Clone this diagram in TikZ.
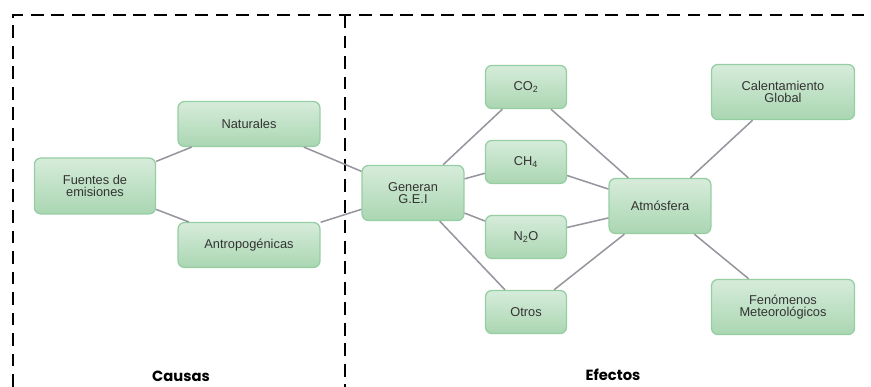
\documentclass[tikz,border=0pt]{standalone}
\usepackage{fontspec}
\setmainfont{Liberation Sans}
\newfontfamily\headfont{Poppins}
\usetikzlibrary{positioning}
\definecolor{boxtop}{RGB}{214,236,218}
\definecolor{boxbot}{RGB}{170,214,178}
\definecolor{boxline}{RGB}{150,206,163}
\definecolor{linkgray}{RGB}{150,150,158}
\begin{document}
\begin{tikzpicture}[x=0.0274cm,y=-0.0274cm,font=\fontsize{10}{9.5}\selectfont]
\tikzset{gbox/.style={rounded corners=5pt,draw=boxline,line width=1pt,top color=boxtop,bottom color=boxbot,align=center,inner sep=2pt,text=black!80}, link/.style={draw=linkgray,line width=1.2pt}, sect/.style={line width=2.3pt,dash pattern=on 10pt off 6pt}, head/.style={font=\headfont\bfseries\fontsize{11.5}{12}\selectfont}}
\useasboundingbox (0,0) rectangle (871,387);
% Sections
\coordinate (tl) at (13,15);
\coordinate (tr) at (864,15);
\coordinate (bl) at (13,387);
\coordinate (tm) at (345,15);
\coordinate (bm) at (345,387);
\draw[sect] (bl) -- (tl) -- (tr);
\draw[sect] (tm) -- (bm);
\node[head] (causas) at (181,376) {Causas};
\node[head] (efectos) at (613,375) {Efectos};
% Causes
\node[gbox,minimum width=3.32cm,minimum height=1.53cm] (fuentes) at (95,186) {Fuentes de\\emisiones};
\node[gbox,minimum width=3.89cm,minimum height=1.23cm] (nat) at (249,124) {Naturales};
\node[gbox,minimum width=3.89cm,minimum height=1.23cm] (antro) at (249,245) {Antropogénicas};
% Effects
\node[gbox,minimum width=2.79cm,minimum height=1.51cm] (gei) at (413,193) {Generan\\G.E.I};
\foreach \n/\y/\t in {co/87/{CO\textsubscript{2}},ch/162/{CH\textsubscript{4}},no/237/{N\textsubscript{2}O},otros/312/{Otros}}{\node[gbox,minimum width=2.22cm,minimum height=1.18cm] (\n) at (526,\y) {\t};}
\node[gbox,minimum width=2.79cm,minimum height=1.51cm] (atm) at (660,206) {Atmósfera};
\node[gbox,minimum width=3.92cm,minimum height=1.51cm] (cal) at (783,92) {Calentamiento\\Global};
\node[gbox,minimum width=3.92cm,minimum height=1.51cm] (fen) at (783,307) {Fenómenos\\Meteorológicos};
% Links
\foreach \a/\b in {fuentes/nat,fuentes/antro,nat/gei,antro/gei,gei/co,gei/ch,gei/no,gei/otros,co/atm,ch/atm,no/atm,otros/atm,atm/cal,atm/fen}{\draw[link] (\a) -- (\b);}
\end{tikzpicture}
\end{document}
